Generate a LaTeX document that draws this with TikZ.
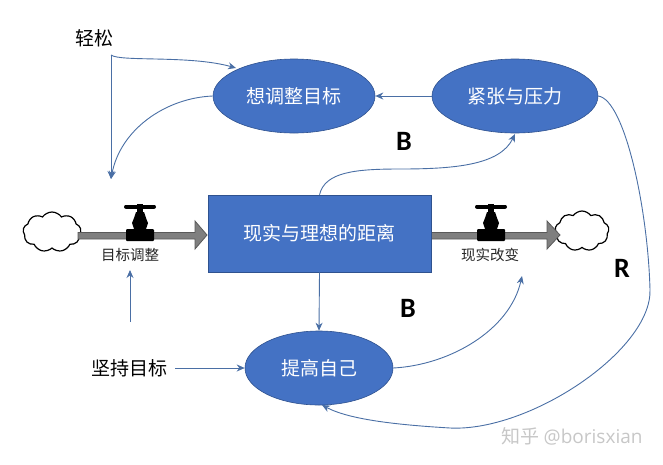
\documentclass[tikz,border=0pt]{standalone}
\usepackage{fontspec}
\setmainfont{Noto Sans CJK SC}
\newfontfamily\latinb{Carlito}
\newfontfamily\latinw{Open Sans}
\usetikzlibrary{shapes.geometric,shapes.symbols,arrows.meta}
\definecolor{fillblue}{HTML}{4472C4}
\definecolor{linkblue}{HTML}{4A6FA5}
\definecolor{edgeblue}{HTML}{2F528F}
\definecolor{pipegray}{HTML}{7F7F7F}
\tikzset{
  oval/.style={ellipse,draw=edgeblue,line width=0.6pt,fill=fillblue,text=white,font=\fontsize{19}{21}\selectfont,inner sep=0pt},
  stock/.style={rectangle,draw=edgeblue,line width=0.6pt,fill=fillblue,text=white,font=\fontsize{19}{21}\selectfont,inner sep=0pt},
  link/.style={draw=linkblue,line width=0.9pt,-{Stealth[length=8pt,width=7pt]}},
  lab/.style={font=\fontsize{19}{21}\selectfont,text=black,inner sep=0pt},
  small/.style={font=\fontsize{14.5}{16}\selectfont,text=black!85,inner sep=0pt},
  loopmark/.style={font=\latinb\bfseries\fontsize{28}{30}\selectfont,text=black,inner sep=0pt},
  puff/.style={cloud,cloud puffs=9,cloud puff arc=110,aspect=1.5,draw=black,line width=1.2pt,fill=white,inner sep=0pt},
  pipe/.style={draw=black!65,fill=pipegray,line width=0.8pt},
}
\newcommand{\valve}[1]{%
  \begin{scope}[shift={(#1,0)}]
    \fill[black,rounded corners=1pt] (-14,229) rectangle (14,241);
    \fill[black] (-6,229) -- (-8,223) -- (-6,218) -- (-4,212) -- (4,212) -- (6,218) -- (8,223) -- (6,229) -- cycle;
    \draw[black,line width=4pt,line cap=round] (-14,206.5) -- (14,206.5);
    \fill[black] (-3,204) rectangle (3,213);
  \end{scope}}
\begin{document}
\begin{tikzpicture}[x=1pt,y=-1pt]
\useasboundingbox (0,0) rectangle (663,464);
% clouds
\node[puff,minimum width=58pt,minimum height=40pt] (cl) at (52,232) {};
\node[puff,minimum width=54pt,minimum height=40pt] (cr) at (582,231) {};
% pipes
\path[pipe] (78,232.5) -- (195,232.5) -- (195,221) -- (207,235) -- (195,249) -- (195,239) -- (78,239) -- cycle;
\path[pipe] (431,232.5) -- (547,232.5) -- (547,221) -- (560,235) -- (547,249) -- (547,239) -- (431,239) -- cycle;
\valve{140}
\valve{491}
% nodes
\node[oval,minimum width=162pt,minimum height=74pt] (adj) at (294,96) {想调整目标};
\node[oval,minimum width=166pt,minimum height=74pt] (ten) at (515,96) {紧张与压力};
\node[stock,minimum width=223pt,minimum height=77pt] (gap) at (319.5,233.5) {现实与理想的距离};
\node[oval,minimum width=148pt,minimum height=74pt] (imp) at (319,368) {提高自己};
\node[lab] (easy) at (94,38) {轻松};
\node[lab] (keep) at (129,368) {坚持目标};
\node[small] (fa) at (130,255) {目标调整};
\node[small] (fb) at (490,255) {现实改变};
\node[loopmark] (b1) at (404,141) {B};
\node[loopmark] (b2) at (408,308) {B};
\node[loopmark] (r) at (622,268) {R};
\node[font=\fontsize{19}{21}\selectfont,text=black!22,inner sep=0pt] (wm) at (572,436) {知乎 {\latinw @borisxian}};
% free ends
\coordinate (fork) at (111,55);
\coordinate (va) at (111,179);
\coordinate (vastem) at (130,322);
\coordinate (vatop) at (130,270);
\coordinate (vb) at (522,276);
% connectors
\draw[link] (fork) .. controls (120,62) and (190,55) .. (236,68);
\draw[link] (fork) -- (va);
\draw[link] (adj.west) .. controls (165,98) and (120,130) .. (va);
\draw[link] (ten.west) -- (adj.east);
\draw[link] (gap.north) .. controls (325,172) and (355,169) .. (400,169) .. controls (455,169) and (500,165) .. (515,134);
\draw[link] (gap.south) -- (imp.north);
\draw[link] (keep.east) ++(8,0) -- (imp.west);
\draw[link] (vastem) -- (vatop);
\draw[link] (imp.east) .. controls (450,365) and (510,330) .. (vb);
\draw[link] (ten.east) .. controls (625,100) and (648,210) .. (650,290) .. controls (651.5,350) and (530,432) .. (450,428) .. controls (400,425) and (350,420) .. (322,405);
\end{tikzpicture}
\end{document}
